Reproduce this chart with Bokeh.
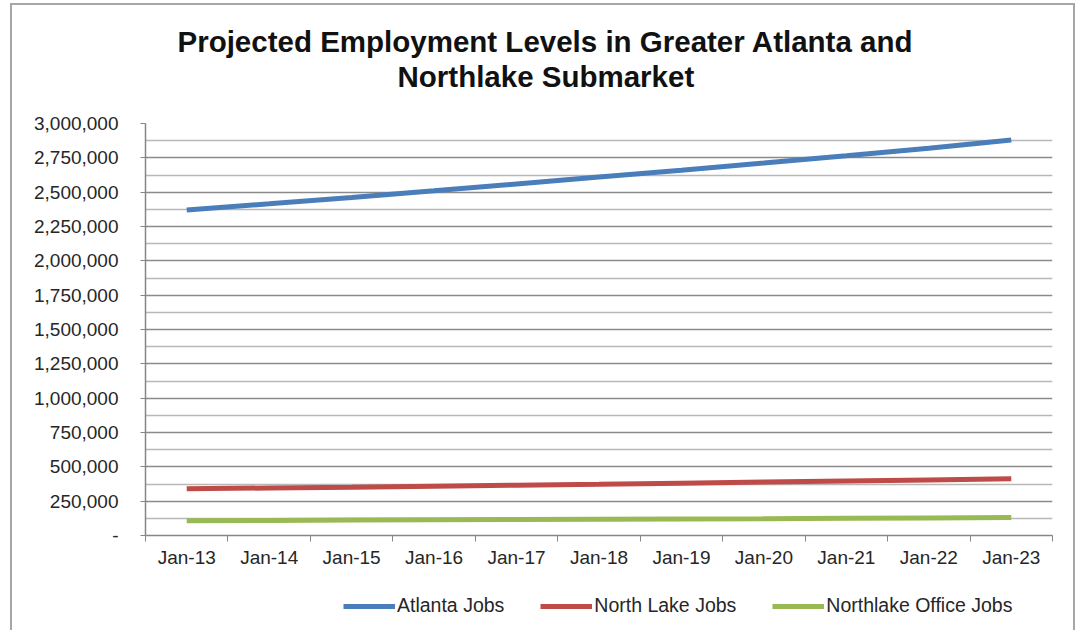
from bokeh.plotting import figure
from bokeh.layouts import column
from bokeh.models import (FixedTicker, NumeralTickFormatter, Legend, LegendItem,
                          Title, Range1d, ColumnDataSource)
from bokeh.embed import file_html
from bokeh.resources import INLINE

months = ["Jan-13", "Jan-14", "Jan-15", "Jan-16", "Jan-17", "Jan-18",
          "Jan-19", "Jan-20", "Jan-21", "Jan-22", "Jan-23"]
atlanta_jobs = [2370000, 2415000, 2462000, 2510000, 2560000, 2610000,
                2660000, 2712000, 2765000, 2820000, 2880000]
north_lake_jobs = [340000, 346000, 352000, 359000, 366000, 373000,
                   381000, 389000, 397000, 405000, 413000]
northlake_office_jobs = [108000, 110000, 112000, 114000, 116000, 118000,
                         120000, 122000, 125000, 128000, 131000]
y_ticks = [0, 250000, 500000, 750000, 1000000, 1250000, 1500000,
           1750000, 2000000, 2250000, 2500000, 2750000, 3000000]
y_minor = [125000, 375000, 625000, 875000, 1125000, 1375000, 1625000,
           1875000, 2125000, 2375000, 2625000, 2875000]
title_lines = ["Projected Employment Levels in Greater Atlanta and",
               "Northlake Submarket"]
series_labels = ["Atlanta Jobs", "North Lake Jobs", "Northlake Office Jobs"]
series_colors = ["#4a7ebb", "#be4b48", "#98b954"]

FONT = "Liberation Sans"

x = list(range(len(months)))
src = ColumnDataSource(dict(x=x, atl=atlanta_jobs, nl=north_lake_jobs,
                            off=northlake_office_jobs))
cols = ["atl", "nl", "off"]

p = figure(frame_width=907, frame_height=412, output_backend="svg", toolbar_location=None,
           x_range=Range1d(-0.5, len(months) - 0.5), y_range=Range1d(0, 3000000),
           min_border_left=133, min_border_right=21, min_border_top=118,
           min_border_bottom=0)
p.outline_line_color = None
p.background_fill_color = "white"
p.border_fill_color = "white"

# spacer between the frame and the title lines
p.add_layout(Title(text=" ", text_font_size="10px", standoff=18), "above")
p.add_layout(Title(text=title_lines[1], align="left", text_font=FONT,
                   text_font_size="29.5px", text_font_style="bold",
                   text_color="#111111", standoff=0, offset=252), "above")
p.add_layout(Title(text=title_lines[0], align="left", text_font=FONT,
                   text_font_size="29.5px", text_font_style="bold",
                   text_color="#111111", standoff=0, offset=32), "above")

# y axis
p.yaxis.ticker = FixedTicker(ticks=y_ticks, minor_ticks=y_minor)
p.yaxis.formatter = NumeralTickFormatter(format="0,0")
p.yaxis.major_label_overrides = {0: "-"}
p.yaxis.major_tick_out = 5
p.yaxis.major_tick_in = 0
p.yaxis.minor_tick_out = 0
p.yaxis.minor_tick_in = 0
p.yaxis.axis_line_color = "#868686"
p.yaxis.axis_line_width = 1.5
p.yaxis.major_tick_line_color = "#868686"
p.yaxis.major_label_text_font = FONT
p.yaxis.major_label_text_font_size = "19px"
p.yaxis.major_label_text_color = "#262626"
p.yaxis.major_label_standoff = 22

# x axis
p.xaxis.ticker = FixedTicker(ticks=x, minor_ticks=[i - 0.5 for i in range(len(months) + 1)])
p.xaxis.major_label_overrides = {i: m for i, m in enumerate(months)}
p.xaxis.major_tick_out = 0
p.xaxis.major_tick_in = 0
p.xaxis.minor_tick_out = 6
p.xaxis.minor_tick_in = 0
p.xaxis.minor_tick_line_color = "#868686"
p.xaxis.axis_line_color = "#868686"
p.xaxis.axis_line_width = 1.5
p.xaxis.major_label_text_font = FONT
p.xaxis.major_label_text_font_size = "19px"
p.xaxis.major_label_text_color = "#262626"
p.xaxis.major_label_standoff = 5

# grid
p.xgrid.visible = False
p.ygrid.grid_line_color = "#8a8a8a"
p.ygrid.grid_line_width = 1.5
p.ygrid.minor_grid_line_color = "#b8b8b8"
p.ygrid.minor_grid_line_width = 1.5

for c, col in zip(cols, series_colors):
    p.line("x", c, source=src, line_width=5, color=col)

# legend strip under the chart (its lines lie outside its tiny ranges)
leg = figure(width=1061, height=60, output_backend="svg", toolbar_location=None,
             x_axis_type=None, y_axis_type=None, x_range=Range1d(-100, -99),
             y_range=Range1d(-100, -99), min_border=0, min_border_left=0,
             min_border_right=0, min_border_top=0, min_border_bottom=0)
leg.outline_line_color = None
leg.grid.visible = False
leg.background_fill_color = "white"
leg.border_fill_color = "white"
items = []
for c, col, lab in zip(cols, series_colors, series_labels):
    r = leg.line("x", c, source=src, line_width=5, color=col)
    items.append(LegendItem(label=lab, renderers=[r]))

legend = Legend(items=items, orientation="horizontal", location=(198, 13),
                glyph_width=52, glyph_height=20, label_standoff=2, spacing=36,
                padding=0, margin=0, border_line_alpha=0,
                background_fill_alpha=0, label_text_font=FONT,
                label_text_font_size="19.5px", label_text_color="#262626")
leg.add_layout(legend)

layout = column(p, leg, spacing=0,
                styles={"border-left": "2px solid #a6a6a6",
                        "border-top": "2px solid #a6a6a6",
                        "border-right": "2px solid #a6a6a6",
                        "margin": "3px 0 0 10px"})

open("out.html", "w").write(file_html(layout, INLINE))
